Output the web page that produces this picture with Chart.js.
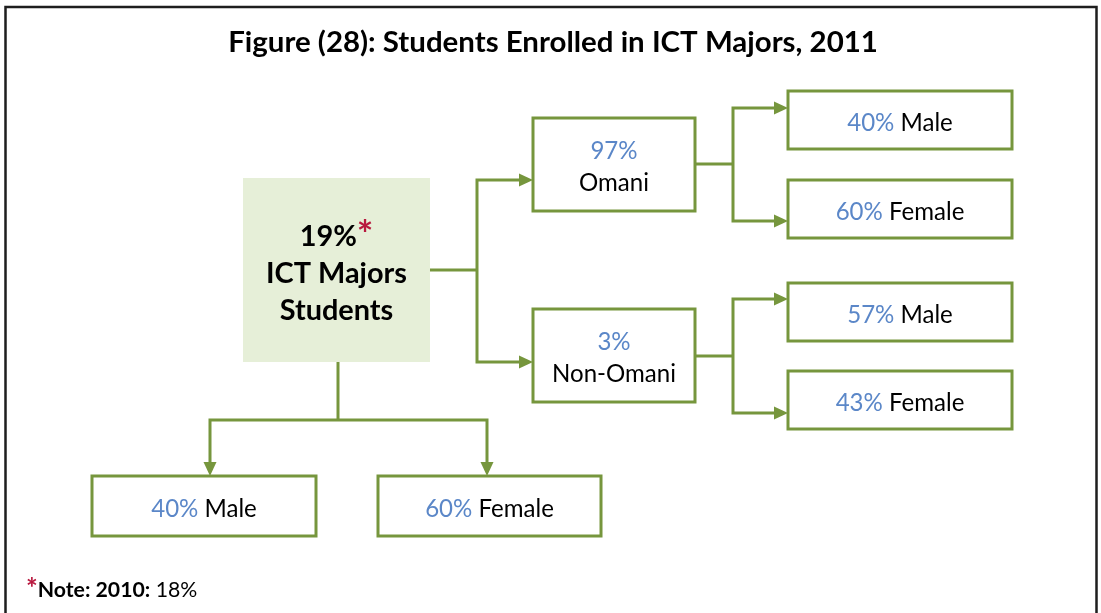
<!DOCTYPE html>
<html><head><meta charset="utf-8">
<script src="https://cdn.jsdelivr.net/npm/chart.js@4.4.1/dist/chart.umd.min.js"></script>
<style>html,body{margin:0;padding:0;background:#fff}canvas{display:block}</style>
</head><body>
<canvas id="c" width="1101" height="613"></canvas>
<script>
// ---- data ----
const titleText = 'Figure (28): Students Enrolled in ICT Majors, 2011';
const rootLabel = ['ICT Majors', 'Students'];
const rootShare = 19;
const nationalityLabels = ['Omani', 'Non-Omani'];
const nationalityShares = [97, 3];
const genderLabels = ['Male', 'Female'];
const omaniGenderShares = [40, 60];
const nonOmaniGenderShares = [57, 43];
const totalGenderShares = [40, 60];
const noteYear = '2010';
const noteShare = 18;

// ---- layout (positions in chart units) ----
const layout = {
  root: {x0:243, y0:178, x1:430, y1:362},
  nat: [{x0:533,y0:118,x1:695,y1:211},{x0:533,y0:309,x1:695,y1:402}],
  natGender: [
    [{x0:788,y0:91,x1:1012,y1:149},{x0:788,y0:180,x1:1012,y1:238}],
    [{x0:788,y0:283,x1:1012,y1:341},{x0:788,y0:371,x1:1012,y1:429}]
  ],
  totGender: [{x0:92,y0:476,x1:316,y1:536},{x0:378,y0:476,x1:601,y1:536}],
  rootRight: {sx:430, sy:270, tx:477, ys:[180,362], ex:533},
  natRight: [{sx:695, sy:164, tx:733, ys:[108,221], ex:788},{sx:695, sy:356, tx:733, ys:[299,413], ex:788}],
  rootDown: {sx:338, sy:362, ty:420, xs:[210,487], ey:476}
};

const GREEN = '#76963D';
const BLUE = '#5B87C8';
const RED = '#B8183E';
const FAMILY = 'Lato, "Open Sans", sans-serif';

function fitSize(ctx, text, weight, target) {
  ctx.font = weight + ' 100px ' + FAMILY;
  return 100 * target / ctx.measureText(text).width;
}

function fontOf(s, size) { return (s.bold ? 'bold ' : '') + (size * (s.k || 1)) + 'px ' + FAMILY; }

function drawRich(ctx, segs, cx, cy, size, alignLeft) {
  let total = 0;
  segs.forEach(s => { ctx.font = fontOf(s, size); s.w = ctx.measureText(s.t).width; total += s.w; });
  let x = alignLeft ? cx : cx - total / 2;
  ctx.textAlign = 'left'; ctx.textBaseline = 'middle';
  segs.forEach(s => { ctx.font = fontOf(s, size); ctx.fillStyle = s.c; ctx.fillText(s.t, x, cy + (s.dy || 0) * size); x += s.w; });
}

const treePlugin = {
  id: 'tree',
  afterDatasetsDraw(chart) {
    const ctx = chart.ctx;
    const X = v => chart.scales.x.getPixelForValue(v);
    const Y = v => chart.scales.y.getPixelForValue(v);
    ctx.save();

    // outer frame
    ctx.strokeStyle = '#1e1e1e'; ctx.lineWidth = 2.5;
    ctx.beginPath();
    ctx.moveTo(X(5.5), Y(640)); ctx.lineTo(X(5.5), Y(7)); ctx.lineTo(X(1096.5), Y(7)); ctx.lineTo(X(1096.5), Y(640));
    ctx.stroke();

    // title
    const tSize = fitSize(ctx, titleText, 'bold', 650);
    ctx.font = 'bold ' + tSize + 'px ' + FAMILY;
    ctx.fillStyle = '#000'; ctx.textAlign = 'center'; ctx.textBaseline = 'middle';
    ctx.fillText(titleText, X(553), Y(42));

    const box = (b, fill) => {
      const x0 = X(b.x0), y0 = Y(b.y0), x1 = X(b.x1), y1 = Y(b.y1);
      if (fill) { ctx.fillStyle = fill; ctx.fillRect(x0, y0, x1 - x0, y1 - y0); }
      else { ctx.strokeStyle = GREEN; ctx.lineWidth = 3; ctx.strokeRect(x0, y0, x1 - x0, y1 - y0); }
    };
    const arrowHead = (tx, ty, dir) => {
      const L = 14, H = 6.5;
      ctx.fillStyle = GREEN; ctx.beginPath();
      if (dir === 'right') { ctx.moveTo(tx, ty); ctx.lineTo(tx - L, ty - H); ctx.lineTo(tx - L, ty + H); }
      else { ctx.moveTo(tx, ty); ctx.lineTo(tx - H, ty - L); ctx.lineTo(tx + H, ty - L); }
      ctx.closePath(); ctx.fill();
    };
    const line = pts => {
      ctx.strokeStyle = GREEN; ctx.lineWidth = 3; ctx.lineJoin = 'miter'; ctx.lineCap = 'butt';
      ctx.beginPath(); pts.forEach((p, i) => i ? ctx.lineTo(X(p[0]), Y(p[1])) : ctx.moveTo(X(p[0]), Y(p[1]))); ctx.stroke();
    };
    const branchRight = c => {
      line([[c.sx, c.sy], [c.tx, c.sy]]);
      line([[c.ex - 13, c.ys[0]], [c.tx, c.ys[0]], [c.tx, c.ys[1]], [c.ex - 13, c.ys[1]]]);
      c.ys.forEach(y => arrowHead(X(c.ex), Y(y), 'right'));
    };

    // connectors
    branchRight(layout.rootRight);
    layout.natRight.forEach(branchRight);
    const d = layout.rootDown;
    line([[d.sx, d.sy], [d.sx, d.ty]]);
    line([[d.xs[0], d.ey - 13], [d.xs[0], d.ty], [d.xs[1], d.ty], [d.xs[1], d.ey - 13]]);
    d.xs.forEach(x => arrowHead(X(x), Y(d.ey), 'down'));

    // root box
    box(layout.root, '#E6EFD8');
    const rSize = fitSize(ctx, rootLabel[0], 'bold', 141);
    const rcx = X((layout.root.x0 + layout.root.x1) / 2);
    drawRich(ctx, [{t: rootShare + '%', c: '#000', bold: true}, {t: '*', c: RED, bold: true, k: 1.35, dy: -0.05}], rcx, Y(237), rSize);
    drawRich(ctx, [{t: rootLabel[0], c: '#000', bold: true}], rcx, Y(274), rSize);
    drawRich(ctx, [{t: rootLabel[1], c: '#000', bold: true}], rcx, Y(311), rSize);

    const sSize = fitSize(ctx, nationalityLabels[1], 'normal', 124);

    // nationality boxes
    layout.nat.forEach((b, i) => {
      box(b);
      const cx = X((b.x0 + b.x1) / 2), cy = (b.y0 + b.y1) / 2;
      drawRich(ctx, [{t: nationalityShares[i] + '%', c: BLUE}], cx, Y(cy - 13), sSize);
      drawRich(ctx, [{t: nationalityLabels[i], c: '#000'}], cx, Y(cy + 19), sSize);
    });

    const genderBox = (b, share, label) => {
      box(b);
      drawRich(ctx, [{t: share + '%', c: BLUE}, {t: ' ' + label, c: '#000'}], X((b.x0 + b.x1) / 2), Y((b.y0 + b.y1) / 2 + 3), sSize);
    };
    const natGenderShares = [omaniGenderShares, nonOmaniGenderShares];
    layout.natGender.forEach((pair, i) => pair.forEach((b, j) => genderBox(b, natGenderShares[i][j], genderLabels[j])));
    layout.totGender.forEach((b, j) => genderBox(b, totalGenderShares[j], genderLabels[j]));

    // note
    const nSize = fitSize(ctx, '*Note: ' + noteYear + ': ' + noteShare + '%', 'normal', 168);
    drawRich(ctx, [{t: '*', c: RED, bold: true, k: 1.3, dy: -0.03}, {t: 'Note: ' + noteYear + ':', c: '#000', bold: true}, {t: ' ' + noteShare + '%', c: '#000'}], X(26), Y(590), nSize, true);

    ctx.restore();
  }
};

// node centres as a (hidden) dataset on the chart's scales
const nodePoints = [layout.root, ...layout.nat, ...layout.natGender.flat(), ...layout.totGender]
  .map(b => ({x: (b.x0 + b.x1) / 2, y: (b.y0 + b.y1) / 2}));

new Chart(document.getElementById('c'), {
  type: 'scatter',
  data: { datasets: [{ data: nodePoints, pointRadius: 0, pointHoverRadius: 0 }] },
  options: {
    responsive: false, animation: false, devicePixelRatio: 1,
    layout: { padding: 0 },
    plugins: { legend: { display: false }, tooltip: { enabled: false } },
    events: [],
    scales: {
      x: { type: 'linear', min: 0, max: 1101, display: false },
      y: { type: 'linear', min: 0, max: 613, reverse: true, display: false }
    }
  },
  plugins: [treePlugin]
});
</script>
</body></html>
